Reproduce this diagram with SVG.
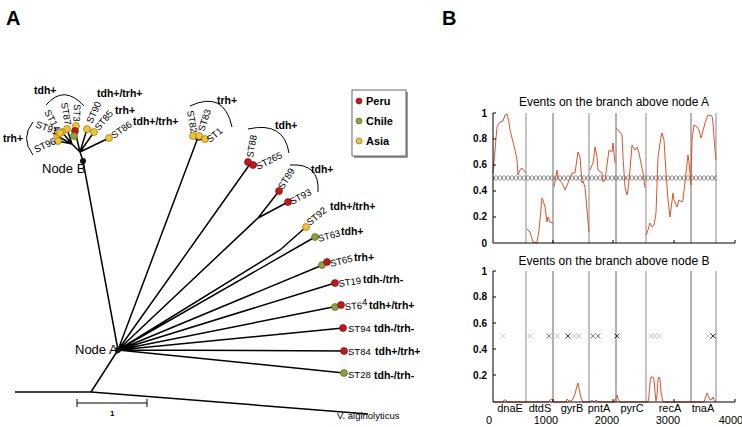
<svg xmlns="http://www.w3.org/2000/svg" xmlns:xlink="http://www.w3.org/1999/xlink" width="742" height="427" viewBox="0 0 742 427">
<style>
text{font-family:"Liberation Sans",Arial,sans-serif;fill:#000}
.pl{font-size:20px;font-weight:bold}
.st{font-size:9.5px}
.tg{font-size:10.5px;font-weight:bold}
.nd{font-size:13px}
.br{fill:none;stroke:#000;stroke-width:1.5}
.arc{fill:none;stroke:#000;stroke-width:1}
.pe{fill:#c3161d;stroke:#5a1010;stroke-width:0.6}
.ch{fill:#8ea23a;stroke:#4a5a18;stroke-width:0.6}
.as{fill:#f4c430;stroke:#7a6010;stroke-width:0.6}
.lg{font-size:11px;font-weight:bold}
.tt{font-size:12px}
.yt{font-size:10px;font-weight:bold;text-anchor:end}
.gn{font-size:11px;text-anchor:middle}
.nx{font-size:11px;text-anchor:middle}
.ax{fill:none;stroke:#000;stroke-width:1}
.gl{stroke:#c4c4c4;stroke-width:2}
.gd{stroke:#9a9a9a;stroke-width:1.5}
.cv{fill:none;stroke:#e0522c;stroke-width:1}
.xl{stroke:#c8c8c8;stroke-width:0.9}
.xd{stroke:#222;stroke-width:0.9}
.xg{stroke:#777;stroke-width:0.9}
</style>
<defs>
<pattern id="xp" x="0" y="175" width="4" height="6" patternUnits="userSpaceOnUse">
<path d="M0.5,0.5 L3.5,5.5 M3.5,0.5 L0.5,5.5" stroke="#6e6e6e" stroke-width="0.9" fill="none"/>
</pattern>
<path id="xm" d="M-2.5,-2.5 L2.5,2.5 M-2.5,2.5 L2.5,-2.5"/>
</defs>

<text class="pl" x="6" y="25">A</text>
<text class="pl" x="442" y="25">B</text>

<g id="connectors">
<path class="br" d="M15,392 L91,392 L368,414"/>
<path class="br" d="M91,392 L118,350"/>
<path class="br" d="M118,350 L344,373 M118,350 L344,351 M118,350 L343,328 M118,350 L338,306 M118,350 L335,283 M118,350 L325,264 M118,350 L315,237 M118,350 L280,250 L306,227 M118,350 L258,218 L279,191 M258,218 L288,202 M118,350 L250,164 M118,350 L197,140 M197,140 L193,136 M197,140 L199,136 M197,140 L205,139 M118,350 L83,161"/>
<path class="br" d="M83,161 L80,152 L109,138 M80,152 L94,132 M80,152 L87,129 M80,152 L75,131 M80,152 L72,144 L67,129 M72,144 L62,132 M72,144 L57,136 M72,144 L58,141"/>
<path class="ax" d="M77,403 L147,403 M77,399 L77,407 M147,399 L147,407" stroke-width="1.5"/>
<path class="arc" d="M33,122 Q20,138 33,155"/>
<path class="arc" d="M46,105 Q64,84 84,106"/>
<path class="arc" d="M190,106 Q224,90 232,127"/>
<path class="arc" d="M248,129 Q284,121 289,153"/>
<path class="arc" d="M290,165 Q320,163 318,192"/>
</g>

<g id="nodeA"><circle cx="118" cy="350" r="3" fill="#111"/><text class="nd" x="75" y="354">Node A</text></g>
<g id="nodeB"><circle cx="83" cy="161" r="3" fill="#111"/><text class="nd" x="42" y="173">Node B</text></g>
<g id="scale"><text x="110" y="416" font-size="8" font-weight="bold">1</text></g>
<g id="outgroup"><text x="337" y="419" font-size="9.5">V. alginolyticus</text></g>

<g id="ST28"><circle class="ch" cx="344" cy="373" r="3.5"/><text class="st" x="348" y="378">ST28</text><text class="tg" x="374" y="379">tdh-/trh-</text></g>
<g id="ST84"><circle class="pe" cx="344" cy="351" r="3.5"/><text class="st" x="348" y="355">ST84</text><text class="tg" x="375" y="355">tdh+/trh+</text></g>
<g id="ST94"><circle class="pe" cx="343" cy="328" r="3.5"/><text class="st" x="348" y="332">ST94</text><text class="tg" x="374" y="332">tdh-/trh-</text></g>
<g id="ST64"><circle class="ch" cx="335" cy="307" r="3.5"/><circle class="pe" cx="341" cy="305" r="3.5"/><text class="st" x="345" y="310" transform="rotate(-4 345 310)">ST6<tspan dy="-3">4</tspan></text><text class="tg" x="369" y="309">tdh+/trh+</text></g>
<g id="ST19"><circle class="pe" cx="335" cy="283" r="3.5"/><text class="st" x="339" y="287" transform="rotate(-8 339 287)">ST19</text><text class="tg" x="363" y="283">tdh-/trh-</text></g>
<g id="ST65"><circle class="ch" cx="322" cy="265" r="3.5"/><circle class="pe" cx="327" cy="262" r="3.5"/><text class="st" x="331" y="267" transform="rotate(-14 331 267)">ST65</text><text class="tg" x="354" y="261">trh+</text></g>
<g id="ST63"><circle class="ch" cx="315" cy="237" r="3.5"/><text class="st" x="319" y="242" transform="rotate(-15 319 242)">ST63</text><text class="tg" x="341" y="235">tdh+</text></g>
<g id="ST92"><circle class="as" cx="306" cy="227" r="3.5"/><text class="st" x="310" y="226" transform="rotate(-40 310 226)">ST92</text><text class="tg" x="330" y="210">tdh+/trh+</text></g>
<g id="ST93"><circle class="pe" cx="288" cy="202" r="3.5"/><text class="st" x="292" y="205" transform="rotate(-28 292 205)">ST93</text></g>
<g id="ST89"><circle class="pe" cx="279" cy="191" r="3.5"/><text class="st" x="283" y="190" transform="rotate(-58 283 190)">ST89</text><text class="tg" x="311" y="173">tdh+</text></g>
<g id="ST265"><circle class="pe" cx="253" cy="165" r="3.5"/><text class="st" x="258" y="170" transform="rotate(-27 258 170)">ST265</text></g>
<g id="ST88"><circle class="pe" cx="248" cy="162" r="3.5"/><text class="st" x="253" y="158" transform="rotate(-80 253 158)">ST88</text><text class="tg" x="275" y="129">tdh+</text></g>
<g id="ST82"><circle class="as" cx="193" cy="136" r="3.5"/><text class="st" x="187" y="111" transform="rotate(80 187 111)">ST82</text></g>
<g id="ST83"><circle class="as" cx="199" cy="136" r="3.5"/><text class="st" x="204" y="132" transform="rotate(-72 204 132)">ST83</text><text class="tg" x="217" y="104">trh+</text></g>
<g id="ST1"><circle class="as" cx="205" cy="139" r="3.5"/><text class="st" x="210" y="143" transform="rotate(-40 210 143)">ST1</text></g>

<g id="ST86"><circle class="as" cx="109" cy="138" r="3.5"/><text class="st" x="114" y="139" transform="rotate(-35 114 139)">ST86</text><text class="tg" x="133" y="125">tdh+/trh+</text></g>
<g id="ST85"><circle class="as" cx="94" cy="132" r="3.5"/><text class="st" x="99" y="131" transform="rotate(-50 99 131)">ST85</text><text class="tg" x="115" y="114">trh+</text></g>
<g id="ST90"><circle class="as" cx="87" cy="129" r="3.5"/><text class="st" x="92" y="124" transform="rotate(-65 92 124)">ST90</text><text class="tg" x="97" y="97">tdh+/trh+</text></g>
<g id="ST3"><circle class="as" cx="76" cy="126" r="3.5"/><circle class="pe" cx="75" cy="131" r="3.5"/><circle class="ch" cx="74" cy="136" r="3.5"/><text class="st" x="74" y="104" transform="rotate(92 74 104)">ST3</text><text class="tg" x="34" y="94">tdh+</text></g>
<g id="ST87"><circle class="as" cx="67" cy="129" r="3.5"/><text class="st" x="61" y="103" transform="rotate(80 61 103)">ST87</text></g>
<g id="ST14"><circle class="as" cx="62" cy="132" r="3.5"/><text class="st" x="44" y="112" transform="rotate(62 44 112)">ST14</text></g>
<g id="ST91"><circle class="as" cx="57" cy="136" r="3.5"/><circle class="as" cx="60" cy="133" r="3.5"/><text class="st" x="35" y="127" transform="rotate(20 35 127)">ST91</text><text class="tg" x="3" y="142">trh+</text></g>
<g id="ST96"><circle class="as" cx="58" cy="141" r="3.5"/><text class="st" x="36" y="153" transform="rotate(-25 36 153)">ST96</text></g>

<g id="legend">
<rect x="354" y="92" width="54" height="66" fill="#999"/>
<rect x="352" y="90" width="54" height="66" fill="#fff" stroke="#444" stroke-width="0.8"/>
<circle class="pe" cx="359" cy="101" r="3"/><text class="lg" x="366" y="105">Peru</text>
<circle class="ch" cx="359" cy="121" r="3"/><text class="lg" x="366" y="125">Chile</text>
<circle class="as" cx="359" cy="141" r="3"/><text class="lg" x="366" y="145">Asia</text>
</g>

<g id="plotA">
<text class="tt" x="614" y="106" text-anchor="middle">Events on the branch above node A</text>
<path class="gl" d="M526,113 V243 M589,113 V243 M646,113 V243 M716,113 V243"/>
<path class="gd" d="M553,113 V243 M616,113 V243 M691,113 V243"/>
<rect x="493" y="175" width="224" height="6" fill="url(#xp)"/>
<polyline class="cv" points="493,173 495,150 497,127 500,122 503,121 505,115 507,114 509,122 510,130 512,138 515,150 517,160 518,175 520,170 522,168 525,172 526,173"/>
<polyline class="cv" points="527,229 530,232 533,242 537,243 539,230 542,198 543,200 545,207 547,222 548,217 550,222 553,223"/>
<polyline class="cv" points="554,187 557,170 558,178 562,183 565,190 568,183 572,173 575,173 578,152 580,157 582,183 583,181 585,187 587,210 589,232"/>
<polyline class="cv" points="590,170 593,163 595,147 597,157 598,170 602,173 603,182 605,180 607,165 609,150 612,152 613,143 615,163"/>
<polyline class="cv" points="616,128 618,130 622,135 623,157 625,187 627,195 628,190 630,170 632,145 633,147 635,150 637,147 639,153 642,168 643,173 645,188"/>
<polyline class="cv" points="646,235 647,233 650,223 652,227 654,225 656,213 658,157 661,137 662,133 664,140 666,173 668,200 670,217 673,193 674,200 677,207 679,200 682,202 683,200 686,173 688,155 689,162 691,185"/>
<polyline class="cv" points="691,185 692,140 694,125 697,127 699,130 701,138 702,135 705,123 708,115 712,116 713,123 715,150 716,160"/>
<path class="ax" d="M493,113 V243 H735"/>
<path class="ax" d="M493,113 h3 M493,139 h3 M493,165 h3 M493,191 h3 M493,217 h3 M553,243 v-3 M613,243 v-3 M674,243 v-3 M735,243 v-3"/>
<text class="yt" x="487" y="117">1</text>
<text class="yt" x="487" y="142">0.8</text>
<text class="yt" x="487" y="168">0.6</text>
<text class="yt" x="487" y="194">0.4</text>
<text class="yt" x="487" y="220">0.2</text>
<text class="yt" x="487" y="247">0</text>
</g>

<g id="plotB">
<text class="tt" x="614" y="265" text-anchor="middle">Events on the branch above node B</text>
<path class="gl" d="M526,271 V402 M589,271 V402 M646,271 V402 M716,271 V402"/>
<path class="gd" d="M553,271 V402 M616,271 V402 M691,271 V402"/>
<g>
<use href="#xm" x="503" y="336" class="xl"/>
<use href="#xm" x="530" y="336" class="xl"/>
<use href="#xm" x="549" y="336" class="xg"/>
<use href="#xm" x="557" y="336" class="xl"/>
<use href="#xm" x="568" y="336" class="xd"/>
<use href="#xm" x="574" y="336" class="xl"/>
<use href="#xm" x="579" y="336" class="xl"/>
<use href="#xm" x="593" y="336" class="xg"/>
<use href="#xm" x="598" y="336" class="xg"/>
<use href="#xm" x="617" y="336" class="xd"/>
<use href="#xm" x="651" y="336" class="xl"/>
<use href="#xm" x="655" y="336" class="xl"/>
<use href="#xm" x="659" y="336" class="xl"/>
<use href="#xm" x="708" y="336" class="xl"/>
<use href="#xm" x="713" y="336" class="xd"/>
</g>
<polyline class="cv" points="493,402 503,402 504,400 506,400 507,402 548,402 550,400 552,399 554,402 566,402 567,399 569,401 571,401 573,399 575,394 577,386 578,383 579,388 581,398 583,402 590,402 592,400 594,402 596,400 598,402 614,402 616,398 617,395 618,399 620,402 648,402 649,396 650,383 651,377 653,377 654,380 655,392 656,401 657,395 658,380 659,377 660,379 661,392 663,402 704,402 706,396 707,393 708,395 710,400 712,399 713,397 714,400 716,402"/>
<path class="ax" d="M493,271 V402 H735"/>
<path class="ax" d="M493,271 h3 M493,297 h3 M493,323 h3 M493,349 h3 M493,375 h3 M553,402 v-3 M613,402 v-3 M674,402 v-3 M735,402 v-3"/>
<text class="yt" x="487" y="275">1</text>
<text class="yt" x="487" y="300">0.8</text>
<text class="yt" x="487" y="327">0.6</text>
<text class="yt" x="487" y="353">0.4</text>
<text class="yt" x="487" y="379">0.2</text>
<text class="gn" x="510" y="412">dnaE</text>
<text class="gn" x="540" y="412">dtdS</text>
<text class="gn" x="572" y="412">gyrB</text>
<text class="gn" x="599" y="412">pntA</text>
<text class="gn" x="632" y="412">pyrC</text>
<text class="gn" x="670" y="412">recA</text>
<text class="gn" x="703" y="412">tnaA</text>
<text class="nx" x="489" y="424">0</text>
<text class="nx" x="546" y="424">1000</text>
<text class="nx" x="607" y="424">2000</text>
<text class="nx" x="668" y="424">3000</text>
<text class="nx" x="731" y="424">4000</text>
</g>
</svg>
